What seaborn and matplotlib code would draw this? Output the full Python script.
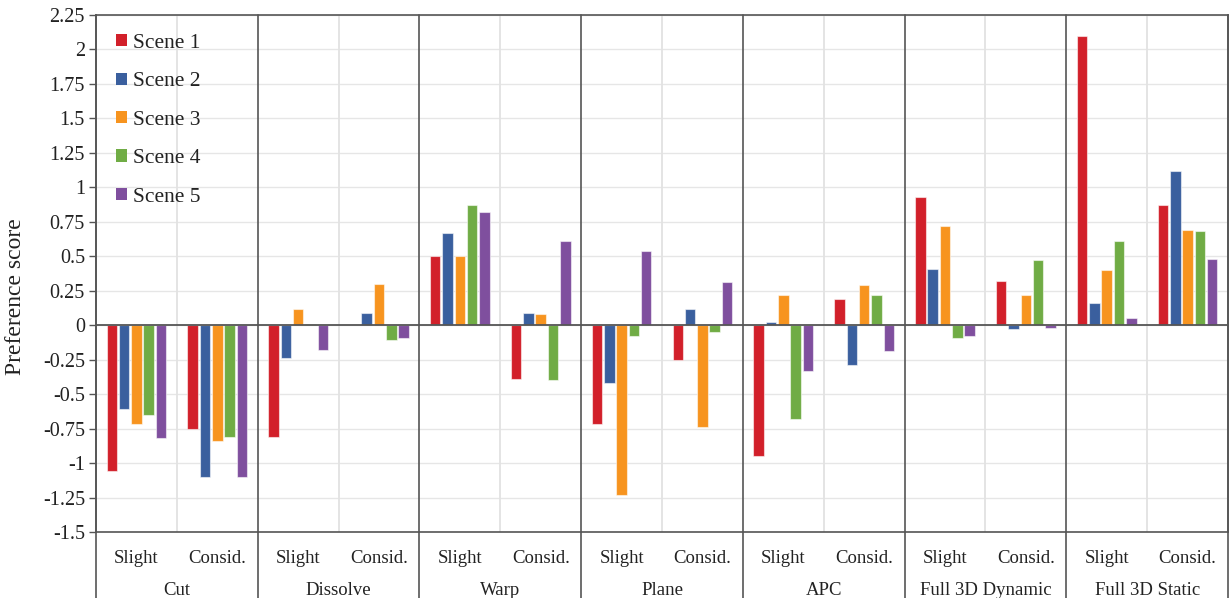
import matplotlib
matplotlib.use("Agg")
import matplotlib.pyplot as plt
import matplotlib.transforms as mtrans
from matplotlib.lines import Line2D
import seaborn as sns
import pandas as pd
import numpy as np

# ---------------- data ----------------
transitions = ["Cut", "Dissolve", "Warp", "Plane", "APC", "Full 3D Dynamic", "Full 3D Static"]
levels = ["Slight", "Consid."]
scenes = ["Scene 1", "Scene 2", "Scene 3", "Scene 4", "Scene 5"]

# values per (transition, level) slot, in order Cut-Slight, Cut-Consid., Dissolve-Slight, ...
scene1 = [-1.06, -0.75, -0.81, 0.00, 0.50, -0.39, -0.72, -0.25, -0.95, 0.19, 0.93, 0.32, 2.10, 0.87]
scene2 = [-0.61, -1.10, -0.24, 0.09, 0.67, 0.09, -0.42, 0.12, 0.02, -0.29, 0.41, -0.03, 0.16, 1.12]
scene3 = [-0.72, -0.84, 0.12, 0.30, 0.50, 0.08, -1.23, -0.74, 0.22, 0.29, 0.72, 0.22, 0.40, 0.69]
scene4 = [-0.65, -0.81, 0.01, -0.11, 0.87, -0.40, -0.08, -0.05, -0.68, 0.22, -0.09, 0.47, 0.61, 0.68]
scene5 = [-0.82, -1.10, -0.18, -0.09, 0.82, 0.61, 0.54, 0.31, -0.33, -0.19, -0.08, -0.02, 0.05, 0.48]

y_ticks = [2.25, 2, 1.75, 1.5, 1.25, 1, 0.75, 0.5, 0.25, 0, -0.25, -0.5, -0.75, -1, -1.25, -1.5]
y_tick_labels = ["2.25", "2", "1.75", "1.5", "1.25", "1", "0.75", "0.5", "0.25", "0",
                 "-0.25", "-0.5", "-0.75", "-1", "-1.25", "-1.5"]

colors = ["#d2202a", "#3a5f9e", "#f7941f", "#70ac45", "#7f4f9e"]

# ---------------- build long table ----------------
slots = [f"{t}|{l}" for t in transitions for l in levels]
series = [scene1, scene2, scene3, scene4, scene5]
rows = []
for sname, vals in zip(scenes, series):
    for slot, v in zip(slots, vals):
        rows.append({"slot": slot, "scene": sname, "value": v})
df = pd.DataFrame(rows)

# ---------------- style ----------------
sns.set_theme(style="white")
plt.rcParams["font.family"] = ["Liberation Serif", "DejaVu Serif"]
text_color = "#222222"
dark = "#555555"

W, H = 1229, 598
fig = plt.figure(figsize=(W / 100, H / 100), dpi=100)
ax_l, ax_r, ax_t, ax_b = 96, 1228, 15, 532
ax = fig.add_axes([ax_l / W, (H - ax_b) / H, (ax_r - ax_l) / W, (ax_b - ax_t) / H])

sns.barplot(data=df, x="slot", y="value", hue="scene", order=slots, hue_order=scenes,
            palette=colors, saturation=1, width=0.76, gap=0.15, ax=ax,
            edgecolor=(1, 1, 1, 0.55), linewidth=0.8, errorbar=None, zorder=3)

n = len(slots)
ax.set_xlim(-0.5, n - 0.5)
ax.set_ylim(-1.5, 2.25)

# grid
for yt in y_ticks:
    ax.axhline(yt, color="#e6e6e6", lw=1.0, zorder=0)
for i in range(len(transitions)):
    ax.axvline(2 * i + 0.5, color="#e2e2e2", lw=1.3, zorder=0)
ax.axhline(0, color=dark, lw=1.3, zorder=4)

# spines
for s in ["top", "bottom", "left", "right"]:
    ax.spines[s].set_visible(True)
    ax.spines[s].set_color(dark)
    ax.spines[s].set_linewidth(1.2)

# group separators, extended below
trans_blend = mtrans.blended_transform_factory(ax.transData, ax.transAxes)
for i in range(len(transitions) + 1):
    xpos = 2 * i - 0.5
    ax.add_line(Line2D([xpos, xpos], [1, -0.2], transform=trans_blend, color=dark,
                       lw=1.2, clip_on=False, zorder=5))

# y ticks
ax.set_yticks(y_ticks)
ax.set_yticklabels(y_tick_labels)
ax.tick_params(axis="y", which="both", left=True, length=5, width=1.0, color=dark,
               labelsize=14.5, labelcolor=text_color, pad=3)

# x ticks (levels)
ax.set_xticks(range(n))
ax.set_xticklabels([s.split("|")[1] for s in slots])
ax.tick_params(axis="x", bottom=False, length=0, labelsize=13.5, labelcolor=text_color, pad=13)
ax.set_xlabel("")
ax.set_ylabel("")

# group labels
for i, t in enumerate(transitions):
    ax.text(2 * i + 0.5, -0.114, t, transform=trans_blend, ha="center", va="center",
            fontsize=13.5, color=text_color)

fig.text(16 / W, 1 - 297 / H, "Preference score", rotation=90, ha="center", va="center",
         fontsize=17, color=text_color)

# legend
handles, labels = ax.get_legend_handles_labels()
leg = ax.legend(handles, labels, loc="upper left",
                bbox_to_anchor=((116 - ax_l) / (ax_r - ax_l), 1 - (34 - ax_t) / (ax_b - ax_t)),
                frameon=False, fontsize=15.5, handlelength=0.5, handleheight=0.5,
                handletextpad=0.3, labelspacing=0.9, borderpad=0, borderaxespad=0)
for txt in leg.get_texts():
    txt.set_color(text_color)
for hnd in leg.legend_handles:
    hnd.set_edgecolor("none")

fig.savefig("out.png", dpi=100)
